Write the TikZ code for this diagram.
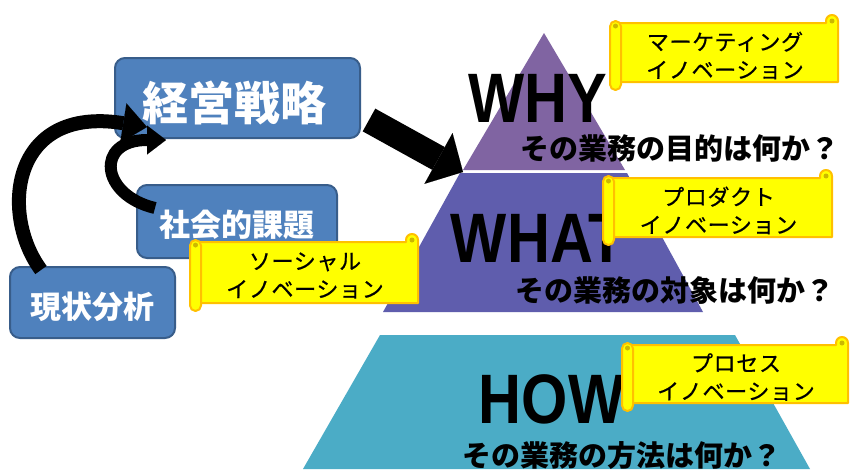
\documentclass[tikz,border=0pt]{standalone}
\usepackage{fontspec}
\setmainfont{Liberation Sans}
\newfontfamily\jp{Noto Sans CJK JP}
\newfontfamily\jpm[FakeBold=0.6,LetterSpace=3]{Noto Sans CJK JP}
\usetikzlibrary{arrows.meta}
\definecolor{boxblue}{HTML}{4F81BD}
\definecolor{boxedge}{HTML}{385D8A}
\definecolor{whyc}{HTML}{8064A2}
\definecolor{whatc}{HTML}{5F5DAD}
\definecolor{howc}{HTML}{4BACC6}
\definecolor{scrollfill}{HTML}{FFFF00}
\definecolor{scrolledge}{HTML}{FFC000}
\definecolor{scrolldark}{HTML}{CCB800}

\newcommand{\drawscroll}[6]{%
  \draw[scrollline] ({#2+6},#3) -- ({#4-12},#3) -- ({#4-12},{#3-2}) arc[start angle=180,end angle=360,radius=6] -- (#4,#5) -- ({#2+6},#5) -- cycle;
  \fill[scrolldark] ({#4-6},{#3-2}) circle (2.5);
  \draw[scrollline, rounded corners=5.5pt] (#2,{#3-2}) rectangle ({#2+11},{#5+8});
  \fill[scrolldark] ({#2+5.5},{#3+3}) circle (2.5);
  \node[scrolltext] (#1) at ({(#2+#4)/2+1},{(#3+#5)/2+3}) {#6};
}

\begin{document}
\begin{tikzpicture}[x=1pt,y=-1pt,
  bluebox/.style={draw=boxedge, line width=2pt, fill=boxblue, rounded corners=10pt, inner sep=0pt},
  boxtext/.style={text=white, inner sep=0pt, anchor=base},
  bigword/.style={font=\bfseries\fontsize{70}{70}\selectfont, anchor=base, inner sep=0pt},
  question/.style={font=\jp\bfseries\fontsize{29}{29}\selectfont, anchor=base west, inner sep=0pt},
  scrollline/.style={draw=scrolledge, fill=scrollfill, line width=2pt, line join=round},
  scrolltext/.style={font=\jpm\fontsize{22}{28}\selectfont, align=center, inner sep=0pt},
]
\useasboundingbox (0,0) rectangle (850,469);
\fill[white] (0,0) rectangle (850,469);

% pyramid
\fill[whyc] (544,33) -- (625,170) -- (463,170) -- cycle;
\fill[whatc] (460,173) -- (627,173) -- (703,312) -- (383,312) -- cycle;
\fill[howc] (380,335) -- (735,335) -- (810,469) -- (303,469) -- cycle;

\node[bigword] (why) at (537.5,122) {\scalebox{0.85}[1]{WHY}};
\node[bigword] (what) at (538,262) {\scalebox{0.85}[1]{WHAT}};
\node[bigword] (how) at (551.5,423) {\scalebox{0.85}[1]{HOW}};

\node[question] (q1) at (520,159) {その業務の目的は何か？};
\node[question] (q2) at (515,301) {その業務の対象は何か？};
\node[question] (q3) at (462,466) {その業務の方法は何か？};

% boxes
\node[bluebox, minimum width=245pt, minimum height=80pt] (strat) at (237.5,98) {};
\node[boxtext, font=\jp\bfseries\fontsize{46}{46}\selectfont] (stratt) at (234,120.5) {経営戦略};
\node[bluebox, minimum width=200pt, minimum height=73pt] (social) at (237,221.5) {};
\node[boxtext, font=\jp\bfseries\fontsize{31}{31}\selectfont] (socialt) at (237,236.8) {社会的課題};
\node[bluebox, minimum width=165pt, minimum height=71pt] (genjo) at (92.5,302.5) {};
\node[boxtext, font=\jp\bfseries\fontsize{31}{31}\selectfont] (genjot) at (92,318.8) {現状分析};

% arrows
\coordinate (a1s) at (41,270);
\coordinate (a1e) at (147,127);
\draw[line width=14pt, -{Triangle[length=24pt,width=40pt,line width=0.01pt]}] (a1s) .. controls (0,215) and (10,105) .. (a1e);
\coordinate (a2s) at (155,208);
\coordinate (a2e) at (166,140);
\draw[line width=12pt, -{Triangle[length=19pt,width=29pt,line width=0.01pt]}] (a2s) .. controls (100,195) and (95,140) .. (a2e);
\coordinate (a3s) at (369,120);
\coordinate (a3e) at (463,172);
\draw[line width=26pt, -{Triangle[length=28pt,width=58pt,line width=0.01pt]}] (a3s) -- (a3e);

% scrolls
\drawscroll{mkt}{610}{23}{838}{82}{マーケティング\\イノベーション}
\drawscroll{prod}{603}{178}{832}{237}{プロダクト\\イノベーション}
\drawscroll{proc}{622}{345}{848}{403}{プロセス\\イノベーション}
\drawscroll{soc}{190}{242}{418}{303}{ソーシャル\\イノベーション}
\end{tikzpicture}
\end{document}
